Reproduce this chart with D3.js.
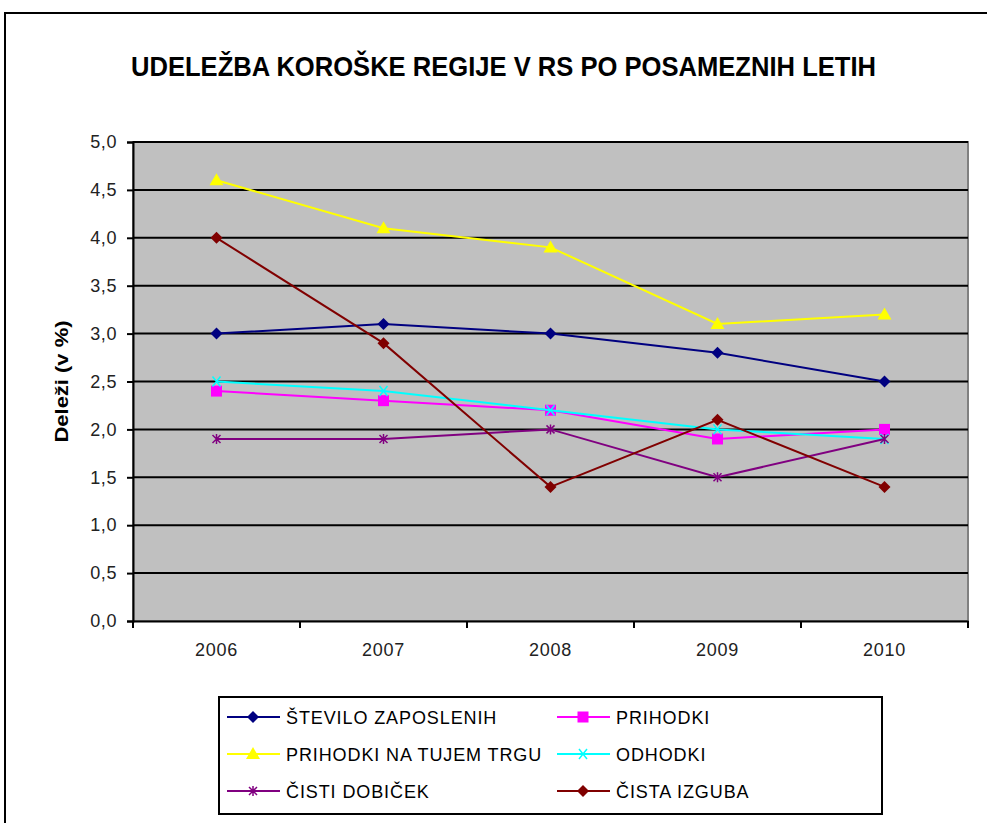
<!DOCTYPE html>
<html>
<head>
<meta charset="utf-8">
<script src="https://cdn.jsdelivr.net/npm/d3@7"></script>
<style>
  body { margin: 0; background: #fff; }
  svg { display: block; }
</style>
</head>
<body>
<div id="chart"></div>
<script>
// data
var years = ["2006", "2007", "2008", "2009", "2010"];
var seriesNames = ["ŠTEVILO ZAPOSLENIH", "PRIHODKI", "PRIHODKI NA TUJEM TRGU", "ODHODKI", "ČISTI DOBIČEK", "ČISTA IZGUBA"];
var zaposleni = [3.0, 3.1, 3.0, 2.8, 2.5];
var prihodki = [2.4, 2.3, 2.2, 1.9, 2.0];
var tujiTrg = [4.6, 4.1, 3.9, 3.1, 3.2];
var odhodki = [2.5, 2.4, 2.2, 2.0, 1.9];
var dobicek = [1.9, 1.9, 2.0, 1.5, 1.9];
var izguba = [4.0, 2.9, 1.4, 2.1, 1.4];
var yTicks = [0, 0.5, 1, 1.5, 2, 2.5, 3, 3.5, 4, 4.5, 5];

var colors = ["#000080", "#FF00FF", "#FFFF00", "#00FFFF", "#800080", "#800000"];
var symbols = ["diamond", "square", "triangle", "x", "star", "diamond"];
var values = [zaposleni, prihodki, tujiTrg, odhodki, dobicek, izguba];

var W = 987, H = 823;
var svg = d3.select("#chart").append("svg")
  .attr("width", W)
  .attr("height", H);

// outer chart frame (runs off to the right and bottom)
svg.append("rect")
  .attr("x", 5).attr("y", 13)
  .attr("width", 1000).attr("height", 900)
  .attr("fill", "none")
  .attr("stroke", "#000")
  .attr("stroke-width", 2);

// title
svg.append("text")
  .attr("x", 131).attr("y", 76)
  .attr("textLength", 745)
  .attr("lengthAdjust", "spacingAndGlyphs")
  .attr("font-family", "'Liberation Sans Narrow', 'Arial Narrow', 'Liberation Sans', Arial, sans-serif")
  .attr("font-weight", "bold")
  .attr("font-size", 28)
  .attr("fill", "#000")
  .text("UDELEŽBA KOROŠKE REGIJE V RS PO POSAMEZNIH LETIH");

// plot box (don't use "top" - clashes with window.top)
var plotL = 133, plotR = 968, plotT = 142, plotB = 621;

var x = d3.scaleBand().domain(years).range([plotL, plotR]).padding(0);
var y = d3.scaleLinear().domain([0, 5]).range([plotB, plotT]);

function cx(i){ return x(years[i]) + x.bandwidth() / 2; }

// plot area
svg.append("rect")
  .attr("x", plotL).attr("y", plotT)
  .attr("width", plotR - plotL).attr("height", plotB - plotT)
  .attr("fill", "#C0C0C0")
  .attr("stroke", "#808080")
  .attr("stroke-width", 2);

// gridlines
svg.append("g").selectAll("line")
  .data(yTicks.filter(function(d){ return d > 0; }))
  .enter().append("line")
  .attr("x1", plotL).attr("x2", plotR)
  .attr("y1", function(d){ return y(d); })
  .attr("y2", function(d){ return y(d); })
  .attr("stroke", "#000")
  .attr("stroke-width", 2);

// y axis
var yAxis = d3.axisLeft(y)
  .tickValues(yTicks)
  .tickSize(6)
  .tickPadding(10)
  .tickFormat(function(d){ return d3.format(".1f")(d).replace(".", ","); });
var gy = svg.append("g").attr("transform", "translate(" + plotL + ",0)").call(yAxis);
gy.select(".domain").attr("stroke", "#000").attr("stroke-width", 2);
gy.selectAll(".tick line").attr("stroke", "#000").attr("stroke-width", 2);
gy.selectAll("text")
  .attr("font-family", "'Liberation Sans', Arial, sans-serif")
  .attr("font-size", 18)
  .attr("letter-spacing", 0.6)
  .attr("fill", "#222");

// x axis - ticks between categories
var xAxis = d3.axisBottom(x).tickSize(0).tickPadding(22);
var gx = svg.append("g").attr("transform", "translate(0," + plotB + ")").call(xAxis);
gx.select(".domain").attr("stroke", "#000").attr("stroke-width", 2);
gx.selectAll("text")
  .attr("font-family", "'Liberation Sans', Arial, sans-serif")
  .attr("font-size", 18)
  .attr("letter-spacing", 0.8)
  .attr("fill", "#222");
gx.selectAll(".sep")
  .data(years.concat(["end"]))
  .enter().append("line")
  .attr("x1", function(d, i){ return plotL + i * x.bandwidth(); })
  .attr("x2", function(d, i){ return plotL + i * x.bandwidth(); })
  .attr("y1", 0).attr("y2", 7)
  .attr("stroke", "#000")
  .attr("stroke-width", 2);

// y axis title
svg.append("text")
  .attr("transform", "translate(68," + ((plotT + plotB) / 2) + ") rotate(-90)")
  .attr("text-anchor", "middle")
  .attr("textLength", 122)
  .attr("lengthAdjust", "spacingAndGlyphs")
  .attr("font-family", "'Liberation Sans', Arial, sans-serif")
  .attr("font-weight", "bold")
  .attr("font-size", 18)
  .attr("fill", "#000")
  .text("Deleži (v %)");

// marker drawing
function drawMarker(g, type, px, py, color){
  if (type == "diamond"){
    g.append("path")
      .attr("d", "M" + px + "," + (py - 6) + "L" + (px + 6) + "," + py + "L" + px + "," + (py + 6) + "L" + (px - 6) + "," + py + "Z")
      .attr("fill", color);
  } else if (type == "square"){
    g.append("rect")
      .attr("x", px - 5.5).attr("y", py - 5.5)
      .attr("width", 11).attr("height", 11)
      .attr("fill", color);
  } else if (type == "triangle"){
    g.append("path")
      .attr("d", "M" + px + "," + (py - 7) + "L" + (px + 7) + "," + (py + 5) + "L" + (px - 7) + "," + (py + 5) + "Z")
      .attr("fill", color);
  } else if (type == "x"){
    g.append("path")
      .attr("d", "M" + (px - 4) + "," + (py - 5) + "L" + (px + 4) + "," + (py + 5) + "M" + (px + 4) + "," + (py - 5) + "L" + (px - 4) + "," + (py + 5))
      .attr("stroke", color).attr("stroke-width", 1.5).attr("fill", "none");
  } else {
    // star: x plus a vertical stroke
    g.append("path")
      .attr("d", "M" + (px - 4) + "," + (py - 4) + "L" + (px + 4) + "," + (py + 4) + "M" + (px + 4) + "," + (py - 4) + "L" + (px - 4) + "," + (py + 4) + "M" + px + "," + (py - 5) + "L" + px + "," + (py + 5))
      .attr("stroke", color).attr("stroke-width", 1.5).attr("fill", "none");
  }
}

// series lines
var line = d3.line()
  .x(function(d, i){ return cx(i); })
  .y(function(d){ return y(d); });

for (var s = 0; s < values.length; s++){
  var g = svg.append("g");
  g.append("path")
    .datum(values[s])
    .attr("d", line)
    .attr("fill", "none")
    .attr("stroke", colors[s])
    .attr("stroke-width", 2);
  for (var i = 0; i < values[s].length; i++){
    drawMarker(g, symbols[s], cx(i), y(values[s][i]), colors[s]);
  }
}

// legend
var legend = svg.append("g");
legend.append("rect")
  .attr("x", 219).attr("y", 697)
  .attr("width", 663).attr("height", 117)
  .attr("fill", "#fff")
  .attr("stroke", "#000")
  .attr("stroke-width", 2);
var colX = [227, 557];
var rowY = [717, 754, 791];
for (var k = 0; k < seriesNames.length; k++){
  var lx = colX[k % 2], ly = rowY[Math.floor(k / 2)];
  legend.append("line")
    .attr("x1", lx).attr("x2", lx + 53)
    .attr("y1", ly).attr("y2", ly)
    .attr("stroke", colors[k])
    .attr("stroke-width", 2);
  drawMarker(legend, symbols[k], lx + 26, ly, colors[k]);
  legend.append("text")
    .attr("x", lx + 59).attr("y", ly + 7)
    .attr("font-family", "'Liberation Sans', Arial, sans-serif")
    .attr("font-size", 18)
    .attr("letter-spacing", 0.9)
    .attr("fill", "#000")
    .text(seriesNames[k]);
}
</script>
</body>
</html>
